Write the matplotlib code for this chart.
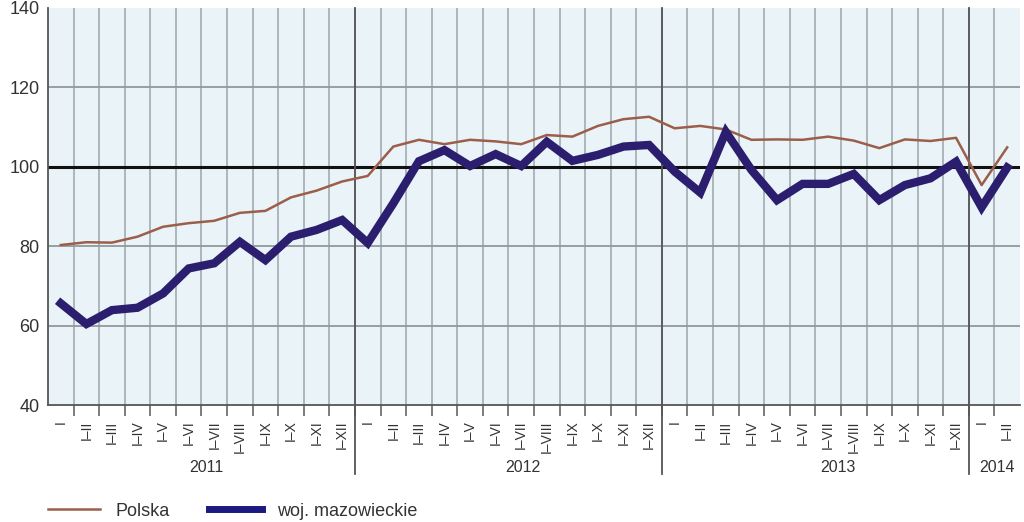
import matplotlib
matplotlib.use("Agg")
import matplotlib.pyplot as plt
import matplotlib.transforms as mtransforms
import numpy as np

plt.rcParams['font.family'] = ['Liberation Sans', 'DejaVu Sans']

months = ["I", "I–II", "I–III", "I–IV", "I–V", "I–VI", "I–VII", "I–VIII",
          "I–IX", "I–X", "I–XI", "I–XII"]
tick_labels = months * 3 + months[:2]
years = ["2011", "2012", "2013", "2014"]
year_counts = [12, 12, 12, 2]

polska = [80.3, 81.0, 80.9, 82.4, 84.9, 85.8, 86.4, 88.4, 88.9, 92.3, 94.0, 96.3,
          97.7, 105.1, 106.8, 105.7, 106.8, 106.4, 105.7, 108.0, 107.6, 110.3, 112.0, 112.6,
          109.7, 110.3, 109.4, 106.8, 106.9, 106.8, 107.6, 106.6, 104.7, 106.9, 106.5, 107.3,
          95.4, 104.9]
mazowieckie = [65.6, 60.4, 63.9, 64.5, 68.1, 74.4, 75.7, 81.1, 76.5, 82.4, 84.1, 86.6,
               80.8, 90.8, 101.4, 104.2, 100.2, 103.2, 100.2, 106.3, 101.5, 103.0, 105.1, 105.5,
               98.8, 93.5, 108.8, 99.2, 91.6, 95.7, 95.7, 98.2, 91.6, 95.4, 97.1, 101.3,
               89.8, 99.8]

fig = plt.figure(figsize=(10.24, 5.22), dpi=100)
ax = fig.add_axes([48/1024, 1-405/522, (1020-48)/1024, (405-8)/522])
ax.set_facecolor("#eaf4f8")

n = len(tick_labels)
x = np.arange(n)
ax.set_xlim(-0.5, n-0.5)
ax.set_ylim(40, 140)

# grid
for b in np.arange(0.5, n-0.5, 1.0):
    ax.axvline(b, color="#a7b1b6", lw=1.3, zorder=1)
for yv in [60, 80, 120]:
    ax.axhline(yv, color="#8f999e", lw=1.3, zorder=1)
ax.axhline(100, color="#111111", lw=2.2, zorder=2)

# year separators
trans = mtransforms.blended_transform_factory(ax.transData, ax.transAxes)
pos = -0.5
year_centers = [5.7, 18.07, 30.38, 36.6]
for cnt in year_counts[:-1]:
    pos += cnt
    ax.plot([pos, pos], [-0.175, 1.0], color="#555555", lw=1.3, transform=trans,
            clip_on=False, zorder=3)
for yr, xc in zip(years, year_centers):
    ax.text(xc, -0.158, yr, transform=trans, ha="center", va="center",
            fontsize=11.5, color="#333333")

ax.plot(x, polska, color="#9b5e4a", lw=1.8, zorder=4, label="Polska")
ax.plot(x, mazowieckie, color="#2b1e6e", lw=6, zorder=5, solid_joinstyle="miter",
        label="woj. mazowieckie")

ax.set_yticks([40, 60, 80, 100, 120, 140])
ax.set_xticks(x)
ax.set_xticklabels(tick_labels, rotation=90, fontsize=10, color="#333333")
ax.set_xticks(np.arange(0.5, n-0.5, 1.0), minor=True)
ax.tick_params(axis="x", which="major", length=0, pad=11)
ax.tick_params(axis="x", which="minor", length=8, width=1.2, color="#666666")
ax.tick_params(axis="y", length=0, labelsize=13, pad=6, labelcolor="#333333")

for s in ["top", "right"]:
    ax.spines[s].set_visible(False)
ax.spines["left"].set_color("#555555")
ax.spines["bottom"].set_color("#555555")
ax.spines["left"].set_linewidth(1.3)
ax.spines["bottom"].set_linewidth(1.3)

handles, labels = ax.get_legend_handles_labels()
leg = fig.legend(handles, labels, loc="center left", bbox_to_anchor=(35/1024, 1-511/522),
                 ncol=2, frameon=False, fontsize=13, handlelength=2.9,
                 columnspacing=2.2, handletextpad=0.85, borderpad=0.2)
for t in leg.get_texts():
    t.set_color("#333333")
leg.get_lines()[1].set_linewidth(5)
leg.get_lines()[1].set_color("#1a1a80")

fig.savefig("out.png", dpi=100)
